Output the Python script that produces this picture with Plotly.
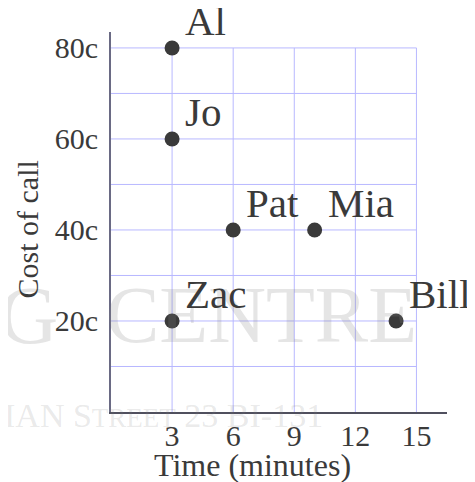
import plotly.graph_objects as go

# ---- data ----
names = ["Al", "Jo", "Pat", "Mia", "Zac", "Bill"]
time_min = [3, 3, 6, 10, 3, 14]
cost_c = [80, 60, 40, 40, 20, 20]

x_ticks = [3, 6, 9, 12, 15]
y_ticks = [20, 40, 60, 80]
y_tick_labels = ["20c", "40c", "60c", "80c"]
x_grid = [3, 6, 9, 12, 15]
y_grid = [10, 20, 30, 40, 50, 60, 70, 80]

FONT = "Liberation Serif"
TXT = "#3a3a3a"
GRID = "#b8b8ff"
WM = "rgba(130,130,130,0.21)"

fig = go.Figure()

fig.add_trace(go.Scatter(
    x=time_min, y=cost_c, mode="markers",
    marker=dict(size=15, color="#3a3a3a"),
    hoverinfo="skip", showlegend=False,
))

shapes = []
x_max_grid = max(x_grid)
y_max_grid = max(y_grid)
for gx in x_grid:
    shapes.append(dict(type="line", xref="x", yref="y", x0=gx, x1=gx, y0=0, y1=y_max_grid,
                       line=dict(color=GRID, width=1), layer="below"))
for gy in y_grid:
    shapes.append(dict(type="line", xref="x", yref="y", x0=0, x1=x_max_grid, y0=gy, y1=gy,
                       line=dict(color=GRID, width=1), layer="below"))

annotations = []
# watermark (faint)
annotations.append(dict(text="G", xref="paper", yref="paper", x=-0.34, y=0.255,
                        xanchor="left", yanchor="middle", showarrow=False,
                        font=dict(family=FONT, size=82, color=WM)))
annotations.append(dict(text="CENTRE", xref="paper", yref="paper", x=-0.02, y=0.255,
                        xanchor="left", yanchor="middle", showarrow=False,
                        font=dict(family=FONT, size=80, color=WM)))
annotations.append(dict(text="IAN S<span style='font-size:27px'>TREET</span> 23 BI-131",
                        xref="paper", yref="paper", x=0.637, y=-0.01,
                        xanchor="right", yanchor="middle", showarrow=False,
                        font=dict(family=FONT, size=34, color="rgba(130,130,130,0.18)")))

for n, xv, yv in zip(names, time_min, cost_c):
    annotations.append(dict(text=n, x=xv, y=yv, xref="x", yref="y",
                            xanchor="left", yanchor="bottom", showarrow=False,
                            xshift=11, yshift=2,
                            font=dict(family=FONT, size=41, color=TXT)))

annotations.append(dict(text="Time (minutes)", xref="paper", yref="paper",
                        x=0.4226, y=-0.1395, xanchor="center", yanchor="middle",
                        showarrow=False, font=dict(family=FONT, size=32, color=TXT)))
annotations.append(dict(text="Cost of call", xref="paper", yref="paper",
                        x=-0.2485, y=0.479, xanchor="center", yanchor="middle",
                        textangle=-90, showarrow=False,
                        font=dict(family=FONT, size=30, color=TXT)))

# the page body adds an 8px offset, so margins are reduced by 8px on left/top
fig.update_layout(
    width=475, height=482,
    margin=dict(l=103, r=36, t=24, b=78, autoexpand=False),
    paper_bgcolor="white", plot_bgcolor="white",
    shapes=shapes, annotations=annotations,
    xaxis=dict(range=[0, 16.5], tickvals=x_ticks, showgrid=False, zeroline=False,
               showline=True, linecolor="#50505e", linewidth=2, ticks="",
               ticklabelstandoff=-4, automargin=False,
               tickfont=dict(family=FONT, size=30, color=TXT), fixedrange=True),
    yaxis=dict(range=[0, 83.5], tickvals=y_ticks, ticktext=y_tick_labels,
               showgrid=False, zeroline=False,
               showline=True, linecolor="#6a6a84", linewidth=2, ticks="",
               ticklabelstandoff=5, automargin=False,
               tickfont=dict(family=FONT, size=30, color=TXT), fixedrange=True),
)

fig.write_html("out.html")
